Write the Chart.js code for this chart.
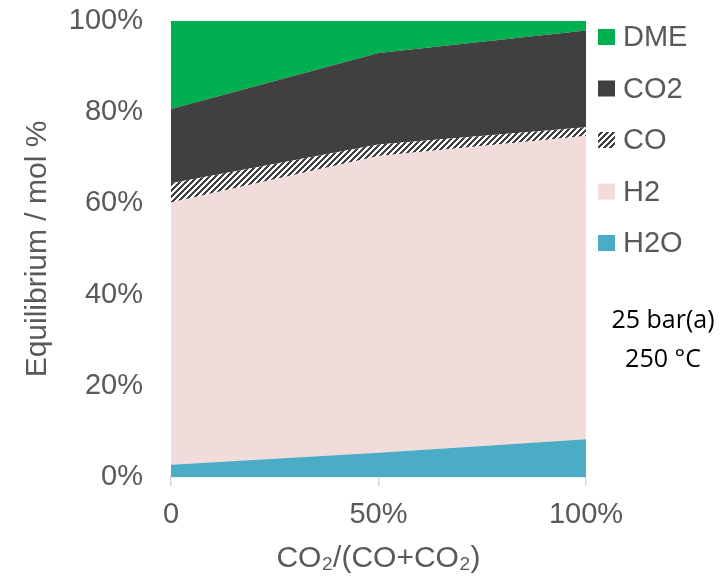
<!DOCTYPE html>
<html>
<head>
<meta charset="utf-8">
<script src="https://cdn.jsdelivr.net/npm/chart.js@4"></script>
<style>
  html, body { margin: 0; padding: 0; background: #ffffff; }
  canvas { display: block; }
</style>
</head>
<body>
<canvas id="c" width="725" height="577"></canvas>
<script>
// ---- data ----
const categories = ['0', '50%', '100%'];
const seriesNames = ['H2O', 'H2', 'CO', 'CO2', 'DME'];
const h2oValues = [2.7, 5.3, 8.3];
const h2Values  = [57.5, 65.1, 66.5];
const coValues  = [4.2, 2.5, 1.9];
const co2Values = [16.3, 20.1, 21.2];
const dmeValues = [19.3, 7.0, 2.1];
const yTickValues = [0, 20, 40, 60, 80, 100];
const annotationLines = ['25 bar(a)', '250 °C'];

// hatch pattern for CO
function makeHatch() {
  const p = document.createElement('canvas');
  const n = 6;
  p.width = n; p.height = n;
  const g = p.getContext('2d');
  g.fillStyle = '#ffffff';
  g.fillRect(0, 0, n, n);
  g.fillStyle = '#404040';
  for (let x = 0; x < n; x++) {
    for (let y = 0; y < n; y++) {
      if (((x + y) % n) < 3) g.fillRect(x, y, 1, 1);
    }
  }
  return document.getElementById('c').getContext('2d').createPattern(p, 'repeat');
}
const hatch = makeHatch();

const fills = {
  H2O: '#4BACC6',
  H2: '#F2DCDB',
  CO: hatch,
  CO2: '#404040',
  DME: '#00B050'
};
const valuesByName = { H2O: h2oValues, H2: h2Values, CO: coValues, CO2: co2Values, DME: dmeValues };

const datasets = seriesNames.map((name, i) => ({
  label: name,
  data: valuesByName[name],
  backgroundColor: fills[name],
  borderWidth: 0,
  borderColor: 'rgba(0,0,0,0)',
  pointRadius: 0,
  pointHoverRadius: 0,
  tension: 0,
  fill: i === 0 ? 'origin' : '-1'
}));

const textColor = '#595959';
const mainFont = 'Liberation Sans, Arial, DejaVu Sans, sans-serif';

const legendPlugin = {
  id: 'customLegend',
  afterDraw(chart) {
    const ctx = chart.ctx;
    ctx.save();
    const items = chart.data.datasets.slice().reverse();
    items.forEach((ds, k) => {
      const cy = 37 + k * 51.5;
      ctx.fillStyle = ds.backgroundColor;
      ctx.fillRect(598, cy - 8, 17, 16);
      ctx.fillStyle = textColor;
      ctx.font = '29px ' + mainFont;
      ctx.textAlign = 'left';
      ctx.textBaseline = 'middle';
      ctx.fillText(ds.label, 623, cy + 1);
    });
    ctx.restore();
  }
};

const annotationPlugin = {
  id: 'annot',
  afterDraw(chart) {
    const ctx = chart.ctx;
    ctx.save();
    ctx.fillStyle = '#000000';
    ctx.font = '25px "Open Sans", sans-serif';
    ctx.textAlign = 'center';
    ctx.textBaseline = 'alphabetic';
    annotationLines.forEach((t, i) => {
      ctx.fillText(t, 663, 328 + i * 39);
    });
    ctx.restore();
  }
};

new Chart(document.getElementById('c'), {
  type: 'line',
  data: { labels: categories, datasets },
  plugins: [legendPlugin, annotationPlugin],
  options: {
    responsive: false,
    animation: false,
    events: [],
    layout: { padding: { left: 0, top: 21, right: 139, bottom: 0 } },
    plugins: {
      legend: { display: false },
      tooltip: { enabled: false },
      filler: { propagate: false }
    },
    scales: {
      x: {
        type: 'category',
        offset: false,
        grid: {
          display: true,
          drawOnChartArea: false,
          drawTicks: true,
          tickLength: 9,
          color: '#d9d9d9',
          lineWidth: 1.5
        },
        border: { display: true, color: '#d9d9d9', width: 1.5 },
        ticks: {
          color: textColor,
          font: { family: mainFont, size: 29 },
          padding: 12,
          maxRotation: 0,
          autoSkip: false
        },
        title: {
          display: true,
          text: 'CO₂/(CO+CO₂)',
          color: textColor,
          font: { family: mainFont, size: 30 },
          padding: { top: 0, bottom: 0 }
        },
        afterFit(scale) {
          scale.height = 100;
          scale.paddingLeft = 0;
          scale.paddingRight = 0;
        }
      },
      y: {
        stacked: true,
        min: 0,
        max: 100,
        afterBuildTicks(scale) { scale.ticks = yTickValues.map(v => ({ value: v })); },
        grid: { display: false, drawTicks: false },
        border: { display: false },
        ticks: {
          color: textColor,
          font: { family: mainFont, size: 29 },
          padding: 28,
          callback: v => v + '%'
        },
        title: {
          display: true,
          text: 'Equilibrium / mol %',
          color: textColor,
          font: { family: mainFont, size: 30 },
          padding: { top: 20, bottom: 0 }
        },
        afterFit(scale) {
          scale.width = 171;
          scale.paddingTop = 0;
          scale.paddingBottom = 0;
        }
      }
    }
  }
});
</script>
</body>
</html>
